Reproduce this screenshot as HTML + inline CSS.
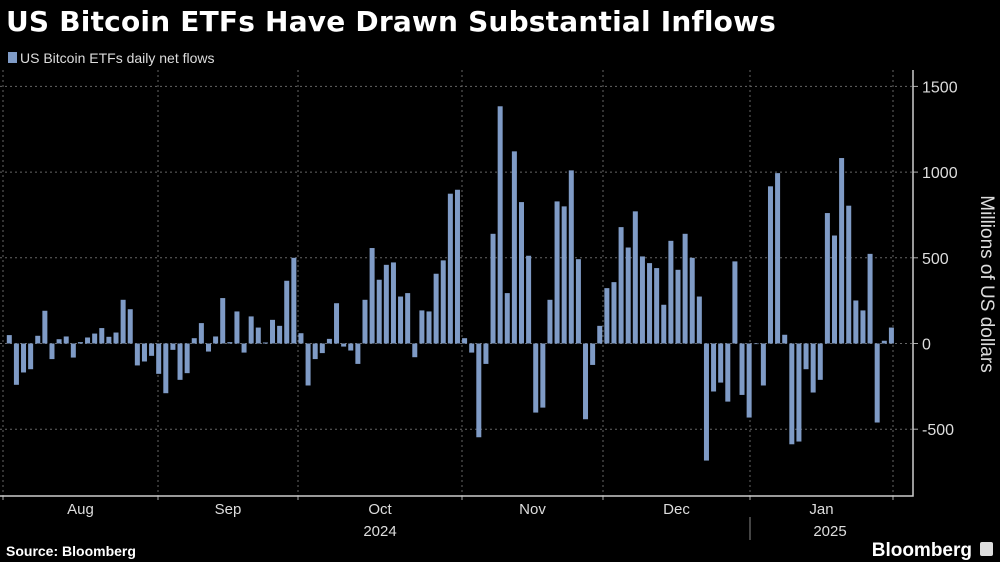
<!DOCTYPE html>
<html><head><meta charset="utf-8"><style>
body{margin:0;background:#000;width:1000px;height:562px;overflow:hidden;font-family:"Liberation Sans",sans-serif;color:#fff}
svg{position:absolute;left:0;top:0}
</style></head><body>
<svg width="1000" height="562">
<text x="6" y="31" font-size="28" font-weight="bold" fill="#fff" letter-spacing="0.2" font-family="DejaVu Sans, Liberation Sans, sans-serif">US Bitcoin ETFs Have Drawn Substantial Inflows</text>
<g>
<rect x="8" y="52" width="9" height="11" fill="#7f9bc6"/>
<text x="20" y="63" font-size="14" fill="#ddd">US Bitcoin ETFs daily net flows</text>
</g>
<g id="grid"></g>
<g id="bars"></g>
<g id="axes"></g>
<text x="6" y="556" font-size="14" font-weight="bold" fill="#fff">Source: Bloomberg</text>
<text x="972" y="556" font-size="19" font-weight="bold" fill="#fff" text-anchor="end">Bloomberg</text>
<rect x="980" y="542" width="13" height="14" rx="2" fill="#ddd"/>
</svg>
<script>
const values=[49,-241,-169,-150,45,191,-91,25,41,-82,8,35,58,90,39,64,255,200,-128,-105,-72,-177,-290,-37,-212,-173,31,119,-47,41,265,8,
187,-53,158,93,6,138,103,366,500,60,-245,-91,-56,27,235,-18,-41,-119,255,557,372,459,473,274,294,-80,193,187,407,485,874,897,
31,-53,-547,-119,640,1384,294,1121,825,512,-403,-374,255,829,800,1010,492,-442,-125,103,323,358,679,560,771,508,469,440,226,599,430,640,
500,274,-683,-280,-228,-339,479,-300,-432,0,-245,917,994,51,-588,-572,-150,-286,-212,761,630,1082,804,251,193,523,-461,16,93];
const yTicks=[1500,1000,500,0,-500];
const monthLabels=["Aug","Sep","Oct","Nov","Dec","Jan"];
const yearLabels=["2024","2025"];
const NS="http://www.w3.org/2000/svg";
const y0=343.5, ppu=85.7/500;
function ys(v){return y0-v*ppu;}
const x0=9.3, step=(884.3-9.3)/123;
function xs(i){return x0+i*step;}
function el(t,a,p){const e=document.createElementNS(NS,t);for(const k in a)e.setAttribute(k,a[k]);p.appendChild(e);return e;}
const grid=document.getElementById('grid'),bars=document.getElementById('bars'),axes=document.getElementById('axes');
const monthBounds=[3,158,298,462,603,750,893];
yTicks.forEach(v=>{
 const l=el('line',{x1:0,x2:913,y1:ys(v),y2:ys(v),stroke:'#666','stroke-dasharray':'2,3','stroke-width':1},grid);
 
 
 const tk=el('line',{x1:913,x2:918,y1:ys(v),y2:ys(v),stroke:'#aaa'},axes);
 
 
 const t=el('text',{x:922,y:ys(v)+6,'font-size':16,fill:'#ddd'},axes);
 t.textContent=v;
 
 
});
monthBounds.forEach(x=>{
 const l=el('line',{x1:x,x2:x,y1:70,y2:496,stroke:'#666','stroke-dasharray':'2,3'},grid);
 
 
 const tk=el('line',{x1:x,x2:x,y1:496,y2:500,stroke:'#aaa'},axes);
 
 
});
values.forEach((v,i)=>{
 const r=el('rect',{x:xs(i)-2.5,y:Math.min(ys(v),y0),width:5,height:Math.max(Math.abs(v*ppu),0.6),fill:'#7f9bc6'},bars);
 
 
});
const fr=el('path',{d:'M0 496 H913 V70',fill:'none',stroke:'#ccc','stroke-width':1.5},axes);


monthLabels.forEach((m,i)=>{
 const t=el('text',{x:(monthBounds[i]+monthBounds[i+1])/2,y:514,'font-size':15,fill:'#ddd','text-anchor':'middle'},axes);
 t.textContent=m;
 
 
});
[[380,0],[830,1]].forEach(([x,i])=>{
 const t=el('text',{x:x,y:536,'font-size':15,fill:'#ddd','text-anchor':'middle'},axes);
 t.textContent=yearLabels[i];
 
 
});
const ysep=el('line',{x1:750,x2:750,y1:517,y2:540,stroke:'#888'},axes);


const yt=el('text',{x:0,y:0,'font-size':19,fill:'#ddd','text-anchor':'middle',transform:'translate(981,284) rotate(90)'},axes);
yt.textContent='Millions of US dollars';


</script>
</body></html>
